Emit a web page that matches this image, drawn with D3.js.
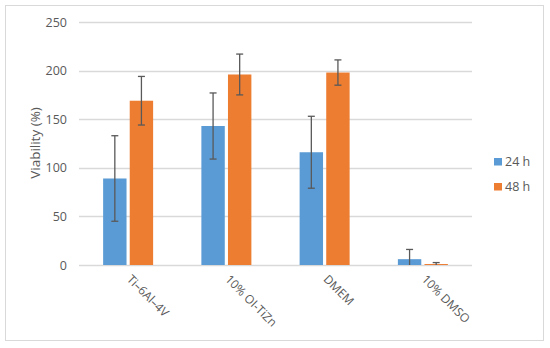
<!DOCTYPE html>
<html>
<head>
<meta charset="utf-8">
<script src="https://cdn.jsdelivr.net/npm/d3@7"></script>
<style>
  body { margin: 0; background: #fff; }
  svg text { font-family: "Open Sans", "Liberation Sans", sans-serif; fill: #595959; }
</style>
</head>
<body>
<div id="chart"></div>
<script>
/* --- data --- */
const categories = ["Ti\u20136Al\u20134V", "10% OI-TiZn", "DMEM", "10% DMSO"];
const seriesNames = ["24 h", "48 h"];
const values24 = [89, 143, 116, 6];
const errors24 = [44, 34, 37, 10];
const values48 = [169, 196, 198, 1];
const errors48 = [25, 21, 13, 1.5];
const yTicks = [0, 50, 100, 150, 200, 250];
const colors = ["#5b9bd5", "#ed7d31"];

const width = 550, height = 348;
const margin = {top: 22, right: 78, bottom: 83, left: 79};

const svg = d3.select("#chart").append("svg")
    .attr("width", width)
    .attr("height", height);

/* outer border */
svg.append("rect")
    .attr("x", 5.5).attr("y", 5.5)
    .attr("width", 538).attr("height", 335)
    .attr("fill", "none")
    .attr("stroke", "#d9d9d9");

const rows = categories.map((c, i) => ({
    cat: c,
    bars: [
        {s: 0, v: values24[i], e: errors24[i]},
        {s: 1, v: values48[i], e: errors48[i]}
    ]
}));

/* scales */
const x0 = d3.scaleBand()
    .domain(categories)
    .range([margin.left, width - margin.right])
    .paddingInner(0)
    .paddingOuter(0);

const x1 = d3.scaleBand()
    .domain([0, 1])
    .range([x0.bandwidth() / 2 - 25, x0.bandwidth() / 2 + 25])
    .paddingInner(0.12)
    .paddingOuter(0);

const y = d3.scaleLinear()
    .domain([0, 250])
    .range([height - margin.bottom, margin.top]);

/* grid */
svg.append("g")
    .selectAll("line")
    .data(yTicks)
    .join("line")
    .attr("x1", margin.left)
    .attr("x2", width - margin.right)
    .attr("y1", d => Math.round(y(d)) + 0.5)
    .attr("y2", d => Math.round(y(d)) + 0.5)
    .attr("stroke", "#d9d9d9")
    .attr("stroke-width", 1.3);

/* y axis */
const yAxis = d3.axisLeft(y).tickValues(yTicks).tickSize(0).tickPadding(12);
const yAxisG = svg.append("g")
    .attr("transform", "translate(" + margin.left + ",0)")
    .call(yAxis);
yAxisG.select(".domain").remove();
yAxisG.selectAll("text")
    .style("font-size", "12.5px")
    .style("font-family", null)
    .attr("font-family", null)
    .attr("fill", "#595959");

/* y label */
svg.append("text")
    .attr("transform", "rotate(-90)")
    .attr("text-anchor", "middle")
    .attr("x", -143)
    .attr("y", 40)
    .style("font-size", "13.5px")
    .text("Viability (%)");

/* bars */
const groups = svg.append("g")
    .selectAll("g")
    .data(rows)
    .join("g")
    .attr("transform", d => "translate(" + x0(d.cat) + ",0)");

groups.selectAll("rect")
    .data(d => d.bars)
    .join("rect")
    .attr("x", d => x1(d.s))
    .attr("y", d => y(d.v))
    .attr("width", x1.bandwidth())
    .attr("height", d => y(0) - y(d.v))
    .attr("fill", d => colors[d.s]);

/* error bars */
const errG = groups.selectAll("g.err")
    .data(d => d.bars)
    .join("g")
    .attr("class", "err")
    .attr("transform", d => "translate(" + (x1(d.s) + x1.bandwidth() / 2) + ",0)");

errG.append("line")
    .attr("x1", 0).attr("x2", 0)
    .attr("y1", d => y(d.v + d.e))
    .attr("y2", d => y(Math.max(0, d.v - d.e)))
    .attr("stroke", "#595959")
    .attr("stroke-width", 1.3);

errG.append("line")
    .attr("x1", -3.5).attr("x2", 3.5)
    .attr("y1", d => y(d.v + d.e))
    .attr("y2", d => y(d.v + d.e))
    .attr("stroke", "#595959")
    .attr("stroke-width", 1.3);

errG.filter(d => d.v - d.e > 0).append("line")
    .attr("x1", -3.5).attr("x2", 3.5)
    .attr("y1", d => y(d.v - d.e))
    .attr("y2", d => y(d.v - d.e))
    .attr("stroke", "#595959")
    .attr("stroke-width", 1.3);

/* x labels */
svg.append("g")
    .selectAll("text")
    .data(categories)
    .join("text")
    .attr("transform", d => "translate(" + (x0(d) + x0.bandwidth() / 2 - 2) + "," + (y(0) + 15) + ") rotate(45)")
    .attr("text-anchor", "start")
    .style("font-size", "12px")
    .text(d => d);

/* legend */
const legend = svg.append("g")
    .attr("transform", "translate(494,158)");

const li = legend.selectAll("g")
    .data(seriesNames)
    .join("g")
    .attr("transform", (d, i) => "translate(0," + (i * 25) + ")");

li.append("rect")
    .attr("width", 8).attr("height", 7.5)
    .attr("fill", (d, i) => colors[i]);

li.append("text")
    .attr("x", 11)
    .attr("y", 8)
    .style("font-size", "12.5px")
    .text(d => d);
</script>
</body>
</html>
